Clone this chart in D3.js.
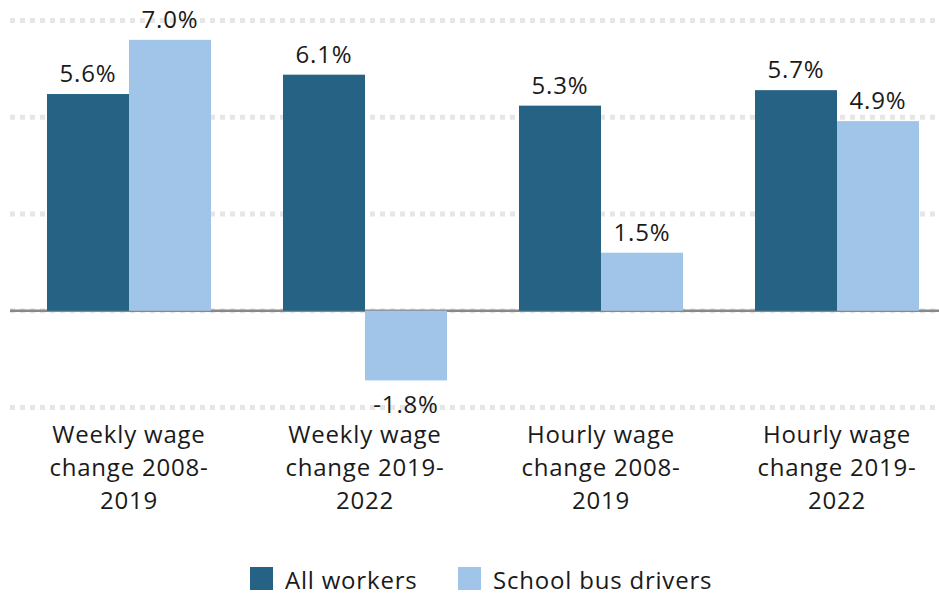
<!DOCTYPE html>
<html>
<head>
<meta charset="utf-8">
<script src="https://cdn.jsdelivr.net/npm/d3@7"></script>
<style>
  html, body { margin: 0; padding: 0; background: #fff; }
  svg { display: block; }
  text { font-family: "Open Sans", Lato, sans-serif; fill: #1a1a1a; letter-spacing: 0.8px; }
</style>
</head>
<body>
<svg id="chart" width="939" height="595"></svg>
<script>
// Wage change by measure, all workers vs. school bus drivers (percent)
const categories = [
  "Weekly wage\nchange 2008-\n2019",
  "Weekly wage\nchange 2019-\n2022",
  "Hourly wage\nchange 2008-\n2019",
  "Hourly wage\nchange 2019-\n2022"
];
const seriesNames = ["All workers", "School bus drivers"];
const allWorkers = [5.6, 6.1, 5.3, 5.7];
const schoolBusDrivers = [7.0, -1.8, 1.5, 4.9];
const gridTicks = [-2.5, 0, 2.5, 5, 7.5];
const colors = ["#256283", "#a0c5e8"];

const rows = categories.map((c, i) => ({
  category: c,
  values: [
    { key: seriesNames[0], value: allWorkers[i] },
    { key: seriesNames[1], value: schoolBusDrivers[i] }
  ]
}));

const svg = d3.select("#chart");

const x0 = d3.scaleBand()
  .domain(categories)
  .range([11, 955])
  .paddingInner(0.305)
  .paddingOuter(0.1525);

const x1 = d3.scaleBand()
  .domain(seriesNames)
  .range([0, x0.bandwidth()]);

const y = d3.scaleLinear()
  .domain([-2.5, 7.5])
  .range([407.5, 20.5]);

const color = d3.scaleOrdinal().domain(seriesNames).range(colors);

// dotted gridlines
svg.append("g")
  .selectAll("line")
  .data(gridTicks)
  .join("line")
  .attr("x1", 10)
  .attr("x2", 939)
  .attr("y1", d => y(d))
  .attr("y2", d => y(d))
  .attr("stroke", "#e6e6e6")
  .attr("stroke-width", 5)
  .attr("stroke-dasharray", "5,5");

// zero baseline
svg.append("line")
  .attr("x1", 10)
  .attr("x2", 939)
  .attr("y1", y(0))
  .attr("y2", y(0))
  .attr("stroke", "#888")
  .attr("stroke-width", 2.5);

// bars
const groups = svg.append("g")
  .selectAll("g")
  .data(rows)
  .join("g")
  .attr("transform", d => `translate(${x0(d.category)},0)`);

groups.selectAll("rect")
  .data(d => d.values)
  .join("rect")
  .attr("x", d => x1(d.key))
  .attr("width", x1.bandwidth())
  .attr("y", d => y(Math.max(0, d.value)))
  .attr("height", d => Math.abs(y(d.value) - y(0)))
  .attr("fill", d => color(d.key));

// value labels
groups.selectAll("text.value")
  .data(d => d.values)
  .join("text")
  .attr("class", "value")
  .attr("x", d => x1(d.key) + x1.bandwidth() / 2)
  .attr("y", d => d.value >= 0 ? y(d.value) - 12 : y(d.value) + 33)
  .attr("text-anchor", "middle")
  .attr("font-size", 24)
  .text(d => d.value.toFixed(1) + "%");

// category labels
const catLabels = svg.append("g")
  .selectAll("text")
  .data(categories)
  .join("text")
  .attr("text-anchor", "middle")
  .attr("font-size", 24)
  .attr("x", d => x0(d) + x0.bandwidth() / 2)
  .attr("y", 443);

catLabels.selectAll("tspan")
  .data(d => d.split("\n"))
  .join("tspan")
  .attr("x", function () { return d3.select(this.parentNode).attr("x"); })
  .attr("dy", (d, i) => i === 0 ? 0 : 33)
  .text(d => d);

// legend
const legendX = [250, 458];
const legend = svg.append("g")
  .selectAll("g")
  .data(seriesNames)
  .join("g")
  .attr("transform", (d, i) => `translate(${legendX[i]},567)`);

legend.append("rect")
  .attr("width", 23)
  .attr("height", 23)
  .attr("fill", d => color(d));

legend.append("text")
  .attr("x", 35)
  .attr("y", 22)
  .attr("font-size", 24)
  .text(d => d);
</script>
</body>
</html>
